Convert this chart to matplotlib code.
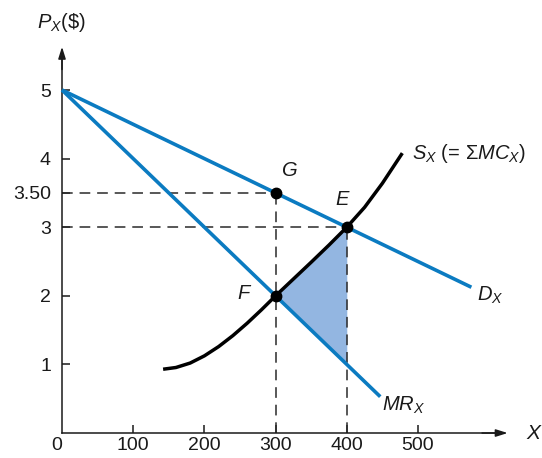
import numpy as np
import matplotlib
matplotlib.use("Agg")
import matplotlib.pyplot as plt

plt.rcParams["font.family"] = ["Liberation Sans", "DejaVu Sans"]
plt.rcParams["mathtext.fontset"] = "custom"
plt.rcParams["mathtext.it"] = "Liberation Sans:italic"
plt.rcParams["mathtext.rm"] = "Liberation Sans"
plt.rcParams["mathtext.sf"] = "Liberation Sans"

# ---- data ----
demand_x = [0, 575]
demand_p = [5.0, 2.125]          # P = 5 - 0.005 X
mr_x = [0, 447]
mr_p = [5.0, 0.53]               # MR = 5 - 0.01 X
supply_x = [142, 160, 180, 200, 220, 240, 260, 280, 300, 325, 350, 375, 400, 425, 450, 478]
supply_p = [0.93, 0.955, 1.02, 1.125, 1.26, 1.42, 1.60, 1.795, 2.0,
            2.245, 2.49, 2.74, 3.0, 3.29, 3.64, 4.08]
points = {"G": (300, 3.5), "E": (400, 3.0), "F": (300, 2.0)}
x_ticks = [100, 200, 300, 400, 500]
x_tick_labels = ["100", "200", "300", "400", "500"]
y_ticks = [1, 2, 3, 3.5, 4, 5]
y_tick_labels = ["1", "2", "3", "3.50", "4", "5"]

BLUE = "#0b7bc1"
FILL = "#93b6e1"
INK = "#1a1a1a"

fig = plt.figure(figsize=(5.42, 4.58), dpi=100)
ax = fig.add_axes([0, 0, 1, 1])
ax.set_xlim(-87.1, 674.2)
ax.set_ylim(-0.364, 6.312)

# axes through the origin
for side in ("top", "right"):
    ax.spines[side].set_visible(False)
ax.spines["left"].set_position(("data", 0))
ax.spines["bottom"].set_position(("data", 0))
ax.spines["left"].set_bounds(0, 5.45)
ax.spines["bottom"].set_bounds(0, 610)
for side in ("left", "bottom"):
    ax.spines[side].set_linewidth(1.1)
    ax.spines[side].set_color(INK)
ax.annotate("", xy=(0, 5.63), xytext=(0, 5.3),
            arrowprops=dict(arrowstyle="-|>,head_length=0.7,head_width=0.22",
                            color=INK, lw=1.1, shrinkA=0, shrinkB=0))
ax.annotate("", xy=(626, 0), xytext=(590, 0),
            arrowprops=dict(arrowstyle="-|>,head_length=0.7,head_width=0.22",
                            color=INK, lw=1.1, shrinkA=0, shrinkB=0))

ax.set_xticks(x_ticks)
ax.set_xticklabels(x_tick_labels)
ax.set_yticks(y_ticks)
ax.set_yticklabels(y_tick_labels)
ax.tick_params(axis="both", direction="in", length=6, width=1.1, color=INK,
               labelsize=14, labelcolor=INK)
ax.tick_params(axis="x", pad=3)
ax.tick_params(axis="y", pad=8)
ax.text(-8, -0.175, "0", ha="center", va="center", fontsize=14, color=INK)

# shaded region between supply and MR from X=300 to X=400
sx = np.array(supply_x, dtype=float)
sp = np.array(supply_p, dtype=float)
mask = (sx >= 300) & (sx <= 400)
lower = np.interp(sx[mask], mr_x, mr_p)
ax.fill_between(sx[mask], lower, sp[mask], color=FILL, lw=0, zorder=1)

# dashed reference lines
dash = dict(color="#2a2a2a", lw=1.1, dashes=(7, 4.5), zorder=2)
G, E, F = points["G"], points["E"], points["F"]
ax.plot([0, G[0]], [G[1], G[1]], **dash)
ax.plot([0, E[0]], [E[1], E[1]], **dash)
ax.plot([G[0], G[0]], [0, G[1]], **dash)
ax.plot([E[0], E[0]], [0, E[1]], **dash)

# curves
ax.plot(demand_x, demand_p, color=BLUE, lw=2.6, solid_capstyle="butt", zorder=3)
ax.plot(mr_x, mr_p, color=BLUE, lw=2.6, solid_capstyle="butt", zorder=3)
ax.plot(supply_x, supply_p, color="black", lw=2.5, solid_capstyle="butt",
        solid_joinstyle="round", zorder=4)

for name, (px, pp) in points.items():
    ax.plot(px, pp, "o", color="black", ms=7.5, zorder=5)

# labels
lab = dict(fontsize=14.5, color=INK)
ax.text(-1.4, 5.99, r"$P_X$(\$)", ha="center", va="center", **lab)
ax.text(664, 0.0, r"$X$", ha="center", va="center", fontsize=15, color=INK)
ax.text(320, 3.82, r"$G$", ha="center", va="center", **lab)
ax.text(395, 3.40, r"$E$", ha="center", va="center", **lab)
ax.text(257, 2.03, r"$F$", ha="center", va="center", **lab)
ax.text(491.6, 4.08, r"$S_X$ (= Σ$MC_X$)", ha="left", va="center", **lab)
ax.text(583, 2.0, r"$D_X$", ha="left", va="center", **lab)
ax.text(449, 0.41, r"$MR_X$", ha="left", va="center", **lab)

fig.savefig("out.png", dpi=100)
